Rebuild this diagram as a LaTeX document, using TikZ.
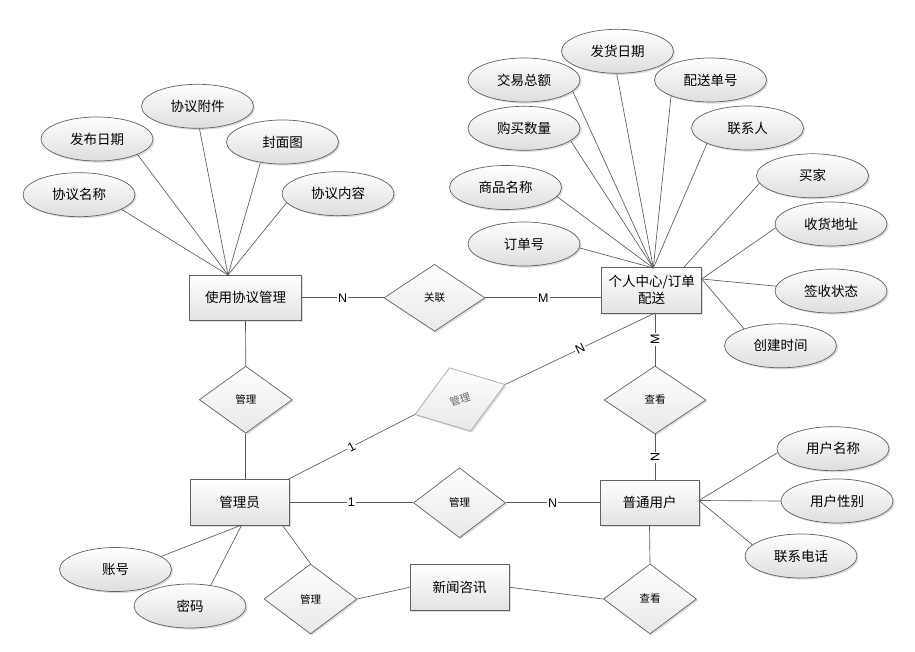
\documentclass[tikz,border=0pt]{standalone}
\usepackage{fontspec}
\setmainfont{Liberation Sans}
\newfontfamily\cjk{Noto Sans CJK SC}
\usetikzlibrary{shapes.geometric,shadows,calc}
\tikzset{
  base/.style={draw=black!62, line width=0.7pt, inner sep=0pt,
    drop shadow={shadow xshift=1.6pt, shadow yshift=-1.6pt, fill=black!22, opacity=0.6}},
  attr/.style={base, ellipse, top color=white, bottom color=black!13,
    minimum width=112pt, minimum height=44pt, font=\cjk\fontsize{13.5}{15}\selectfont},
  ent/.style={base, rectangle, top color=white, bottom color=black!11,
    minimum height=45.5pt, font=\cjk\fontsize{13.5}{17}\selectfont},
  rel/.style={base, diamond, top color=white, bottom color=black!9,
    font=\cjk\fontsize{10.5}{12}\selectfont},
  conn/.style={draw=black!65, line width=0.65pt},
  lbl/.style={fill=white, inner sep=1pt, font=\fontsize{12.5}{13}\selectfont}
}
\begin{document}
\begin{tikzpicture}[x=1pt,y=-1pt]
\useasboundingbox (0,0) rectangle (915,652);
% entities
\node[ent, minimum width=112pt] (xy) at (245.5,297.8) {使用协议管理};
\node[ent, minimum width=100pt, align=center] (gr) at (651.7,290.3) {个人中心/订单\\配送};
\node[ent, minimum width=99pt] (gly) at (239.7,502.3) {管理员};
\node[ent, minimum width=99pt] (pt) at (649.5,502.8) {普通用户};
\node[ent, minimum width=99pt, minimum height=46pt] (xw) at (459.5,587.2) {新闻咨讯};
% relationships
\node[rel, minimum width=101pt, minimum height=67pt] (gl) at (434.5,297.8) {关联};
\node[rel, minimum width=93pt, minimum height=67pt] (m1) at (245.8,399.7) {管理};
\node[rel, rotate=18.4, minimum width=95pt, minimum height=67pt, draw=black!35, text=black!60] (m2) at (460,399.5) {管理};
\node[rel, minimum width=102pt, minimum height=68pt] (ck1) at (655,400) {查看};
\node[rel, minimum width=92pt, minimum height=70pt] (m3) at (459.5,502.8) {管理};
\node[rel, minimum width=93pt, minimum height=70pt] (m4) at (310.5,599) {管理};
\node[rel, minimum width=93pt, minimum height=70pt] (ck2) at (650,599) {查看};
% attributes of 使用协议管理
\node[attr] (a1) at (79,194.7) {协议名称};
\node[attr] (a2) at (97,139) {发布日期};
\node[attr] (a3) at (197.5,106.3) {协议附件};
\node[attr] (a4) at (282.5,142) {封面图};
\node[attr] (a5) at (338,193.7) {协议内容};
% attributes of 个人中心
\node[attr] (b1) at (617.5,51.3) {发货日期};
\node[attr] (b2) at (524,80) {交易总额};
\node[attr] (b3) at (710.5,80) {配送单号};
\node[attr] (b4) at (524,128.3) {购买数量};
\node[attr] (b5) at (747.5,128) {联系人};
\node[attr] (b6) at (505.5,187.5) {商品名称};
\node[attr] (b7) at (524,244) {订单号};
\node[attr] (b8) at (812.5,175.8) {买家};
\node[attr] (b9) at (831,224) {收货地址};
\node[attr] (b10) at (831,291) {签收状态};
\node[attr] (b11) at (780.5,345.8) {创建时间};
% attributes of 普通用户
\node[attr] (c1) at (833,448.7) {用户名称};
\node[attr] (c2) at (837,501) {用户性别};
\node[attr] (c3) at (801,556) {联系电话};
% attributes of 管理员
\node[attr] (d1) at (115.5,569.5) {账号};
\node[attr] (d2) at (190,606) {密码};
% junction points
\coordinate (xyT) at (228,275);
\coordinate (grT) at (653.3,268);
\coordinate (grT2) at (683.3,268);
\coordinate (grR) at (701.7,279);
\coordinate (grB) at (655,313);
\coordinate (ptR) at (699,500.5);
\coordinate (glyB) at (241.7,525);
% attribute lines
\foreach \a/\ang in {a1/-19.3, a2/-21.2, a3/-85, a4/223, a5/190}
  \draw[conn] (\a.\ang) -- (xyT);
\foreach \b/\ang in {b1/-92, b2/-13.3, b3/202.9, b4/-15.9, b5/201.8, b6/-10.2, b7/-4.4}
  \draw[conn] (\b.\ang) -- (grT);
\draw[conn] (b8.188) -- (grT2);
\foreach \b/\ang in {b9/184.4, b10/175.6, b11/155.7}
  \draw[conn] (\b.\ang) -- (grR);
\foreach \c/\ang in {c1/184, c2/180, c3/167.7}
  \draw[conn] (\c.\ang) -- (ptR);
\draw[conn] (d1.16.6) -- (glyB);
\draw[conn] (d2.45.4) -- (glyB);
% relationship lines
\draw[conn] (xy) -- node[lbl]{N} (gl);
\draw[conn] (gl.east) -- node[lbl]{M} (gl.east -| gr.west);
\draw[conn] (xy.south) -- (m1.north);
\draw[conn] (m1.south) -- (m1.south |- gly.north);
\draw[conn] (gly.east) -- node[lbl]{1} (gly.east -| m3.west);
\draw[conn] (m3.east) -- node[lbl]{N} (m3.east -| pt.west);
\draw[conn] ([xshift=-1.2pt]gly.north east) -- node[lbl, sloped]{1} (m2.west);
\draw[conn] (m2.east) -- node[lbl, sloped]{N} (grB);
\draw[conn] (grB) -- node[lbl, rotate=90]{M} (ck1.north);
\draw[conn] (ck1.south) -- node[lbl, rotate=90]{N} (ck1.south |- pt.north);
\draw[conn] ([xshift=-7pt]gly.south east) -- (m4.north);
\draw[conn] (m4.east) -- (xw.west);
\draw[conn] (xw.east) -- (ck2.west);
\draw[conn] (pt.south) -- (ck2.north);
\end{tikzpicture}
\end{document}
